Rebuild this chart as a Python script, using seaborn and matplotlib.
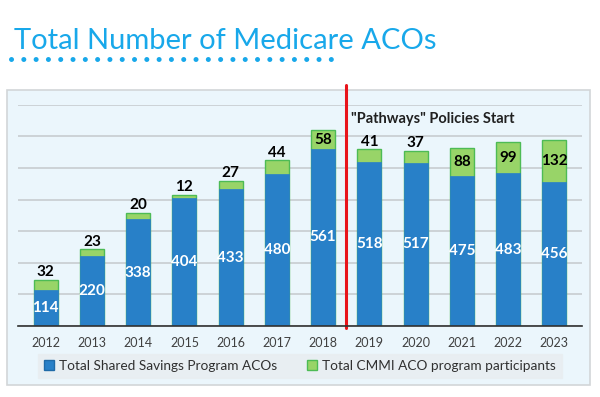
import pandas as pd
import seaborn as sns
import matplotlib.pyplot as plt
from matplotlib.patches import Rectangle
from matplotlib.lines import Line2D

# datos
years = ["2012", "2013", "2014", "2015", "2016", "2017", "2018",
         "2019", "2020", "2021", "2022", "2023"]
ssp_acos = [114, 220, 338, 404, 433, 480, 561, 518, 517, 475, 483, 456]
cmmi_acos = [32, 23, 20, 12, 27, 44, 58, 41, 37, 88, 99, 132]

df = pd.DataFrame({"year": years, "ssp": ssp_acos, "cmmi": cmmi_acos})
df["total"] = df["ssp"] + df["cmmi"]

blue = "#2880C8"
green = "#98D468"
green_edge = "#4DBB55"

sns.set_style("white")
plt.rcParams["font.family"] = ["Lato", "DejaVu Sans"]
fig = plt.figure(figsize=(6, 3.97), dpi=100)

# titulo y linea de puntos
fig.text(0.024, 0.896, "Total Number of Medicare ACOs", color="#18A8EA",
         fontsize=21, ha="left", va="center")
fig.add_artist(Line2D([0.018, 0.566], [0.851, 0.851], color="#18A8EA", lw=3.6,
                      linestyle=(0, (0.01, 2.45)), dash_capstyle="round",
                      transform=fig.transFigure))

# caja del grafico
fig.add_artist(Rectangle((0.012, 0.03), 0.972, 0.743, transform=fig.transFigure,
                         facecolor="#EBF6FC", edgecolor="#D2D6D8", lw=1.2, zorder=0))

ax = fig.add_axes([0.03, 0.179, 0.94, 0.557])
ax.set_facecolor("none")

sns.barplot(data=df, x="year", y="total", color=green, edgecolor=green_edge,
            linewidth=1, width=0.52, saturation=1, ax=ax, zorder=3)
sns.barplot(data=df, x="year", y="ssp", color=blue, edgecolor=blue,
            linewidth=0.5, width=0.52, saturation=1, ax=ax, zorder=4)

ax.set_ylim(0, 700)
ax.set_xlim(-0.6, 11.6)
ax.set_yticks(range(0, 701, 100))
ax.yaxis.grid(True, color="#C8CDD0", lw=1.2)
ax.set_axisbelow(True)
ax.tick_params(axis="y", left=False, labelleft=False)
ax.tick_params(axis="x", length=0, pad=8, labelsize=9, labelcolor="#404040")
ax.set_xlabel("")
ax.set_ylabel("")
for s in ["top", "right", "left"]:
    ax.spines[s].set_visible(False)
ax.spines["bottom"].set_color("#303030")
ax.spines["bottom"].set_linewidth(1.2)
ax.spines["bottom"].set_zorder(6)

# etiquetas
for i, row in df.iterrows():
    ax.text(i, row["ssp"] / 2, str(row["ssp"]), color="white", fontweight="bold",
            fontsize=11, ha="center", va="center", zorder=5)
    if row["cmmi"] >= 55:
        ax.text(i, row["ssp"] + row["cmmi"] / 2, str(row["cmmi"]), color="black",
                fontweight="bold", fontsize=11, ha="center", va="center", zorder=5)
    else:
        ax.text(i, row["total"] + 2, str(row["cmmi"]), color="black",
                fontweight="bold", fontsize=11, ha="center", va="bottom", zorder=5)

# linea roja
ax.axvline(6.5, ymin=-0.01, ymax=1.09, color="#E8141B", lw=2.2, clip_on=False, zorder=6)
ax.text(6.6, 655, "\"Pathways\" Policies Start", fontsize=10.5, fontweight="bold",
        color="#202020", ha="left", va="center")

# leyenda
handles = [Rectangle((0, 0), 1, 1, facecolor=blue, edgecolor="#1F6AA8"),
           Rectangle((0, 0), 1, 1, facecolor=green, edgecolor=green_edge)]
leg = fig.legend(handles, ["Total Shared Savings Program ACOs",
                           "Total CMMI ACO program participants"],
                 loc="center", bbox_to_anchor=(0.5, 0.078), ncol=2, fontsize=9.8,
                 frameon=True, fancybox=False, handlelength=0.75, handleheight=0.75,
                 handletextpad=0.35, columnspacing=2.2, borderpad=0.45,
                 borderaxespad=0)
leg.get_frame().set_facecolor("#E8EDF0")
leg.get_frame().set_edgecolor("#E8EDF0")
for t in leg.get_texts():
    t.set_color("#303030")

fig.savefig("out.png", dpi=100)
